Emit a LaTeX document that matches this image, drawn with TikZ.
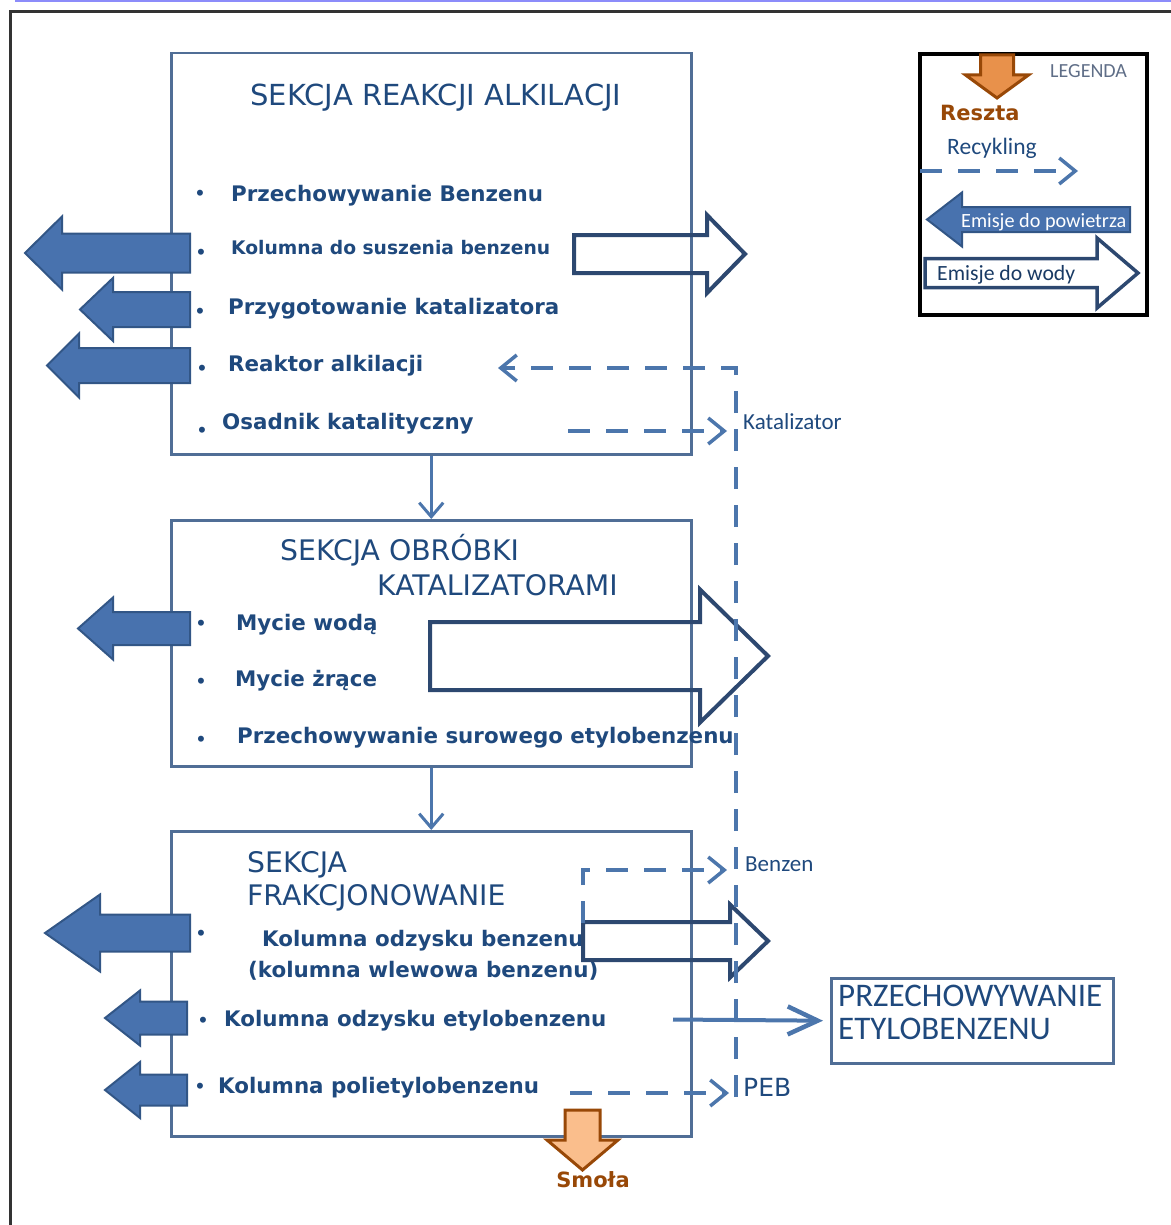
\documentclass[tikz,border=0pt]{standalone}
\usepackage{fontspec}
\usetikzlibrary{arrows.meta}
\newfontfamily\dvsans{DejaVu Sans}
\newfontfamily\carlito{Carlito}
\newcommand{\fsz}[1]{\fontsize{#1}{#1}\selectfont}

\definecolor{navy}{RGB}{31,73,125}
\definecolor{boxline}{RGB}{80,110,150}
\definecolor{fillblue}{RGB}{72,114,174}
\definecolor{edgeblue}{RGB}{50,86,134}
\definecolor{waterline}{RGB}{45,72,112}
\definecolor{dashblue}{RGB}{76,118,172}
\definecolor{tarfill}{RGB}{250,190,140}
\definecolor{legfill}{RGB}{232,145,75}
\definecolor{tarline}{RGB}{152,72,7}
\definecolor{toplav}{RGB}{140,140,250}
\definecolor{legendgrey}{RGB}{95,110,135}

% horizontal block arrow: style, tail x, head-base x, tip x, centre y, shaft half, head half
\newcommand{\hblock}[7]{%
  \draw[#1] (#2,#5-#6) -- (#3,#5-#6) -- (#3,#5-#7) -- (#4,#5) -- (#3,#5+#7)
    -- (#3,#5+#6) -- (#2,#5+#6) -- cycle;}
% vertical block arrow: style, tail y, head-base y, tip y, centre x, shaft half, head half
\newcommand{\vblock}[7]{%
  \draw[#1] (#5-#6,#2) -- (#5-#6,#3) -- (#5-#7,#3) -- (#5,#4) -- (#5+#7,#3)
    -- (#5+#6,#3) -- (#5+#6,#2) -- cycle;}

\tikzset{
  sect/.style={draw=boxline, line width=2.5pt, minimum width=520pt, anchor=north west, inner sep=0pt},
  title/.style={text=navy, font=\dvsans\fsz{28.3}, inner sep=0pt, yshift=-2.5pt},
  item/.style={text=navy, font=\dvsans\bfseries\fsz{21.4}, anchor=west, inner sep=0pt, yshift=-2.5pt},
  bul/.style={text=navy, font=\dvsans\bfseries\fsz{17}, inner sep=0pt},
  lbl/.style={text=navy, font=\carlito\fsz{23}, anchor=west, inner sep=0pt},
  air/.style={fill=fillblue, draw=edgeblue, line width=2pt},
  water/.style={draw=waterline, line width=4pt},
  residue/.style={fill=tarfill, draw=tarline, line width=3pt},
  barb/.style={-{Straight Barb[length=16pt,width=26pt,line width=3.5pt]}},
  recyc/.style={draw=dashblue, line width=4pt, dash pattern=on 22pt off 16pt},
  flow/.style={draw=dashblue, line width=3pt, -{Straight Barb[length=14pt,width=24pt,line width=3pt]}},
  resid/.style={text=tarline, font=\dvsans\bfseries\fsz{21}, inner sep=0pt},
}

\begin{document}
\begin{tikzpicture}[x=1pt,y=-1pt]
\useasboundingbox (0,0) rectangle (1170,1225);

% page frame
\draw[toplav, line width=3pt] (15,1) -- (1172,1);
\draw[black!80, line width=3pt] (1175,12) -- (10,12) -- (10,1230);

% the three process sections
\node[sect, minimum height=401pt] (b1) at (170,52) {};
\node[sect, minimum height=246pt] (b2) at (170,519) {};
\node[sect, minimum height=305pt] (b3) at (170,830) {};

\draw[flow] (b1) -- (b2);
\draw[flow] (b2) -- (b3);

% ---------- section 1
\node[title, font=\dvsans\fsz{29}] (t1) at (436,95) {SEKCJA REAKCJI ALKILACJI};
\node[bul] (d11) at (200,195) {•};
\node[bul] (d12) at (201,254) {•};
\node[bul] (d13) at (200,313) {•};
\node[bul] (d14) at (202,370) {•};
\node[bul] (d15) at (202,432) {•};
\node[item] (i11) at (231,193) {Przechowywanie Benzenu};
\node[item, font=\dvsans\bfseries\fsz{18.7}] (i12) at (231,245) {Kolumna do suszenia benzenu};
\node[item] (i13) at (228,306) {Przygotowanie katalizatora};
\node[item] (i14) at (228,363) {Reaktor alkilacji};
\node[item] (i15) at (222,421) {Osadnik katalityczny};

\hblock{air}{190}{62}{25}{253}{19.5}{36.5}
\hblock{air}{190}{113}{80}{309.5}{17.5}{31.5}
\hblock{air}{190}{79}{47}{365.5}{17.5}{32}
\hblock{water}{574}{707}{745}{254}{19}{39}

% ---------- section 2
\node[title, anchor=west] (t2a) at (280,548) {SEKCJA OBRÓBKI};
\node[title, anchor=west] (t2b) at (377,583) {KATALIZATORAMI};
\node[bul] (d21) at (201,625) {•};
\node[bul] (d22) at (201,683) {•};
\node[bul] (d23) at (201,741) {•};
\node[item] (i21) at (236,622) {Mycie wodą};
\node[item] (i22) at (235,678) {Mycie żrące};
\node[item] (i23) at (237,735) {Przechowywanie surowego etylobenzenu};

\hblock{air}{190}{113}{78}{628.5}{16.5}{31}
\hblock{water}{430}{700}{768}{656}{34}{66.5}

% ---------- section 3
\node[title, anchor=west] (t3a) at (247,862) {SEKCJA};
\node[title, anchor=west] (t3b) at (247,895) {FRAKCJONOWANIE};
\node[bul] (d31) at (201,935) {•};
\node[bul] (d32) at (203,1022) {•};
\node[bul] (d33) at (200,1088) {•};
\node[item] (i31) at (262,938) {Kolumna odzysku benzenu};
\node[item] (i31b) at (248,968) {(kolumna wlewowa benzenu)};
\node[item] (i32) at (224,1018) {Kolumna odzysku etylobenzenu};
\node[item] (i33) at (218,1085) {Kolumna polietylobenzenu};

\hblock{air}{190}{100}{45}{933}{18.5}{38.5}
\hblock{air}{187}{140}{105}{1018}{16.5}{27.5}
\hblock{air}{187}{140}{105}{1090}{15.5}{28}
\hblock{water}{583}{730}{768}{941}{19}{36.5}

% residue leaving the fractionation section
\vblock{residue}{1110}{1140}{1170}{582.5}{17.5}{35.5}
\node[resid] (smola) at (593,1180) {Smoła};

% ethylbenzene product storage
\node[draw=boxline, line width=2.5pt, anchor=north west, minimum width=282pt,
      minimum height=85pt, inner sep=0pt] (sto) at (830,977) {};
\node[anchor=north west, align=left, text=navy, font=\carlito\fsz{33}, inner sep=0pt]
  (stot) at (838,985) {PRZECHOWYWANIE\\ETYLOBENZENU};
\coordinate (ebout) at (673,1019.5);
\draw[draw=dashblue, line width=4pt,
      -{Straight Barb[length=30pt,width=28pt,line width=4.5pt]}, shorten >=7pt]
  (ebout) -- (sto.west);

% recycle streams
\coordinate (pebin) at (736,1097);
\coordinate (ctop) at (736,368);
\coordinate (reak) at (498,368);
\draw[recyc, barb] (pebin) -- (ctop) -- (reak);

\coordinate (osad) at (568,431);
\coordinate (katin) at (727,431);
\draw[recyc, barb] (osad) -- (katin);
\node[lbl] (kat) at (743,422) {Katalizator};

\coordinate (benout) at (583,923);
\coordinate (benknee) at (583,870);
\coordinate (benin) at (727,870);
\draw[recyc, barb] (benout) -- (benknee) -- (benin);
\node[lbl] (ben) at (745,864) {Benzen};

\coordinate (pebout) at (570,1093);
\coordinate (pebtip) at (729,1093);
\draw[recyc, barb] (pebout) -- (pebtip);
\node[lbl, font=\dvsans\fsz{25}] (peb) at (743,1087) {PEB};

% ---------- legend
\node[draw=black, line width=4pt, anchor=north west, minimum width=227pt,
      minimum height=261pt, inner sep=0pt] (leg) at (918,52) {};
\node[anchor=west, text=legendgrey, font=\carlito\fsz{20}, inner sep=0pt] (legt) at (1050,71) {LEGENDA};
\vblock{residue, fill=legfill}{55}{75}{98}{997}{16.5}{31.5}
\node[resid, anchor=west] (resz) at (940,113) {Reszta};
\node[lbl, font=\carlito\fsz{23.5}] (recy) at (947,148) {Recykling};
\coordinate (lgr1) at (920,171);
\coordinate (lgr2) at (1078,171);
\draw[recyc, barb] (lgr1) -- (lgr2);
\hblock{air}{1130}{962}{927}{219.5}{12.5}{27}
\node[anchor=west, text=white, font=\carlito\fsz{20.2}, inner sep=0pt] (lair) at (961,222) {Emisje do powietrza};
\hblock{water, line width=3.5pt}{925}{1097}{1138}{273}{14.5}{35}
\node[anchor=west, text=navy!80!black, font=\carlito\fsz{21.7}, inner sep=0pt] (lwat) at (937,275) {Emisje do wody};
\end{tikzpicture}
\end{document}
